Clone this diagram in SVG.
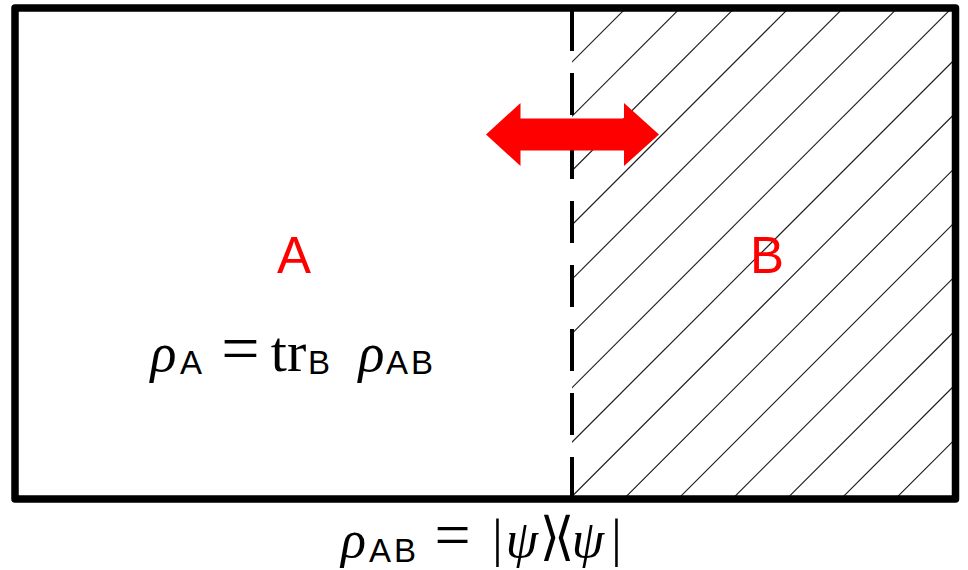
<svg xmlns="http://www.w3.org/2000/svg" width="968" height="570" viewBox="0 0 968 570">
<style>
.math{font-family:"Liberation Serif","DejaVu Serif",serif;fill:#000}
.it{font-style:italic}
.sans{font-family:"Liberation Sans","DejaVu Sans",sans-serif}
.lbl{font-family:"Liberation Sans","DejaVu Sans",sans-serif;fill:#ff0000;font-size:51px;text-anchor:middle}
.hatch line{stroke:#1a1a1a;stroke-width:1.1}
</style>
<defs>
<clipPath id="clipB"><rect x="572" y="8" width="383" height="491"/></clipPath>
</defs>
<rect width="968" height="570" fill="#fff"/>
<g id="regionB">
<g class="hatch" clip-path="url(#clipB)">
<line x1="34" y1="600" x2="734" y2="-100"/>
<line x1="88.3" y1="600" x2="788.3" y2="-100"/>
<line x1="142.6" y1="600" x2="842.6" y2="-100"/>
<line x1="196.9" y1="600" x2="896.9" y2="-100"/>
<line x1="251.2" y1="600" x2="951.2" y2="-100"/>
<line x1="305.5" y1="600" x2="1005.5" y2="-100"/>
<line x1="359.8" y1="600" x2="1059.8" y2="-100"/>
<line x1="414.1" y1="600" x2="1114.1" y2="-100"/>
<line x1="468.4" y1="600" x2="1168.4" y2="-100"/>
<line x1="522.7" y1="600" x2="1222.7" y2="-100"/>
<line x1="577" y1="600" x2="1277" y2="-100"/>
<line x1="631.3" y1="600" x2="1331.3" y2="-100"/>
<line x1="685.6" y1="600" x2="1385.6" y2="-100"/>
<line x1="739.9" y1="600" x2="1439.9" y2="-100"/>
<line x1="794.2" y1="600" x2="1494.2" y2="-100"/>
<line x1="848.5" y1="600" x2="1548.5" y2="-100"/>
</g>
<text class="lbl" x="767" y="273">B</text>
</g>
<g id="regionA">
<text class="lbl" x="294" y="273">A</text>
<text id="formulaA" class="math" font-size="54"><tspan class="it" x="163.5" y="371" text-anchor="middle">ρ</tspan><tspan class="sans" x="180" y="374" font-size="33">A</tspan><tspan x="240.5" y="371" font-size="68" text-anchor="middle">=</tspan><tspan x="288.5" y="371" font-size="58" text-anchor="middle">tr</tspan><tspan class="sans" x="308" y="374" font-size="33">B</tspan><tspan class="it" x="371.5" y="371" text-anchor="middle">ρ</tspan><tspan class="sans" x="386" y="374" font-size="33" letter-spacing="3">AB</tspan></text>
</g>
<g id="frame">
<rect x="15" y="8" width="940.5" height="491" fill="none" stroke="#000" stroke-width="7.5" stroke-linejoin="round"/>
<line x1="572" y1="9" x2="572" y2="499" stroke="#000" stroke-width="4" stroke-dasharray="42 22"/>
</g>
<g id="connectors">
<polygon points="486,134.5 520.5,103 520.5,118.5 624,118.5 624,103 659,134.5 624,166 624,150.5 520.5,150.5 520.5,166" fill="#ff0000"/>
</g>
<g id="formulaAB">
<text class="math" font-size="52"><tspan class="it" x="353.5" y="557" text-anchor="middle">ρ</tspan><tspan class="sans" x="369" y="562" font-size="33" letter-spacing="3">AB</tspan><tspan x="452.5" y="556" font-size="64" text-anchor="middle">=</tspan><tspan x="497.5" y="556" text-anchor="middle">|</tspan><tspan class="it" x="522" y="557" text-anchor="middle">ψ</tspan><tspan x="554" y="554" font-family="DejaVu Serif, serif" text-anchor="middle" letter-spacing="-6">⟩⟨</tspan><tspan class="it" x="588" y="557" text-anchor="middle">ψ</tspan><tspan x="616.5" y="556" text-anchor="middle">|</tspan></text>
</g>
</svg>
